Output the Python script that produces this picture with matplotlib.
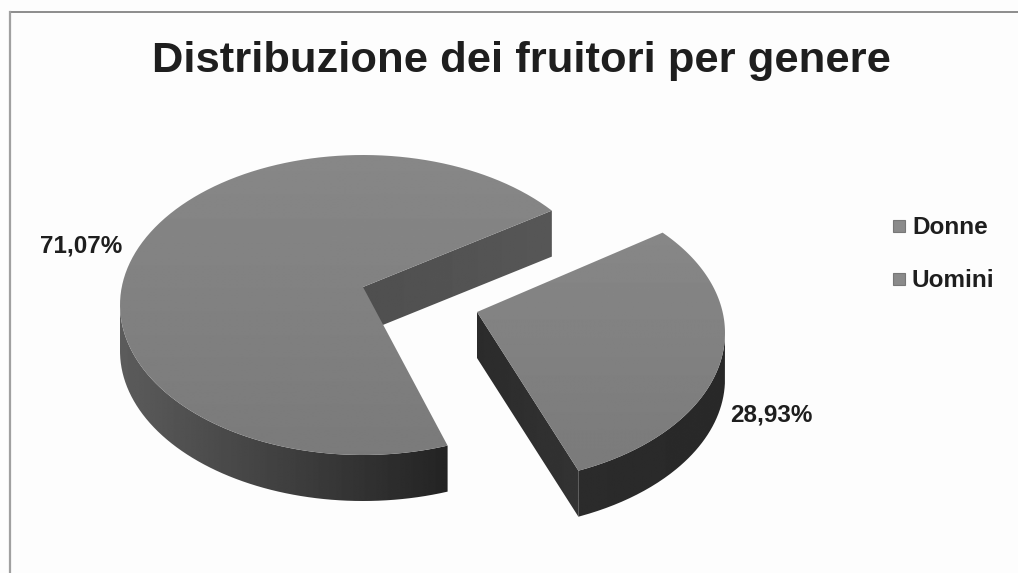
import numpy as np
import matplotlib
matplotlib.use("Agg")
import matplotlib.pyplot as plt
from matplotlib.patches import PathPatch, Rectangle
from matplotlib.path import Path

plt.rcParams['font.family'] = ['Liberation Sans', 'DejaVu Sans']

# dati del grafico
categorie = ["Donne", "Uomini"]
quote = [71.07, 28.93]
etichette = ["71,07%", "28,93%"]
titolo = "Distribuzione dei fruitori per genere"

# geometria della torta 3D (pixel della figura)
A, B = 243, 150      # semiassi dell'ellisse
H = 46               # spessore
PROSP = 1.043        # la prospettiva allarga la fetta piccola

fig = plt.figure(figsize=(10.18, 5.73), dpi=100, facecolor="#fdfdfd")
ax = fig.add_axes([0, 0, 1, 1])
ax.set_xlim(0, 1018)
ax.set_ylim(573, 0)
ax.axis("off")


def arco(cx, cy, a0, a1, n=120):
    th = np.radians(np.linspace(a0, a1, n))
    return np.column_stack([cx + A*np.cos(th), cy - B*np.sin(th)])


def riempi(punti, c0, c1, vert=False, z=2):
    # poligono riempito con un gradiente
    patch = PathPatch(Path(np.vstack([punti, punti[:1]])), fc="none", ec="none", zorder=z)
    ax.add_patch(patch)
    g = np.linspace(c0, c1, 256)
    g = g.reshape(-1, 1) if vert else g.reshape(1, -1)
    x0, x1 = punti[:, 0].min(), punti[:, 0].max()
    y0, y1 = punti[:, 1].min(), punti[:, 1].max()
    im = ax.imshow(g, extent=[x0, x1, y1, y0], cmap="gray", vmin=0, vmax=1,
                   aspect="auto", zorder=z, interpolation="bilinear")
    im.set_clip_path(patch)


def fetta(apice, centro, a0, a1, lato, muro, col_lato, top=(0.53, 0.48)):
    # a0 -> a1 in senso antiorario, lato = lato interno visibile, muro = arco visibile
    bordo = arco(centro[0], centro[1], a0, a1)
    giu = np.array([0, H])
    # lato interno
    e = arco(centro[0], centro[1], lato, lato, 1)[0]
    p = np.array([apice, e, e + giu, np.array(apice) + giu])
    riempi(p, col_lato, col_lato + 0.03)
    # parete esterna
    m = arco(centro[0], centro[1], muro[0], muro[1])
    p = np.vstack([m, (m + giu)[::-1]])
    riempi(p, muro[2], muro[3])
    # faccia superiore
    p = np.vstack([[apice], bordo])
    riempi(p, top[0], top[1], vert=True, z=3)


# angoli ricavati dalle quote
gradi = 360*np.array(quote)/sum(quote)*PROSP

# fetta Donne (71,07%)
inizio_d = 39
fine_d = inizio_d + 360 - gradi[1]
fetta((363, 287), (363, 305), inizio_d, fine_d, inizio_d, (180, fine_d, 0.36, 0.14), 0.31)

# fetta Uomini (28,93%)
inizio_u = 42
fine_u = inizio_u - gradi[1]
fetta((477, 312), (482, 333), fine_u, inizio_u, fine_u, (fine_u, 0, 0.17, 0.16), 0.17)

# cornice
ax.plot([10, 1018], [12, 12], color="#8c8c8c", lw=1.4, zorder=1)
ax.plot([10, 10], [12, 573], color="#a0a0a0", lw=1.6, zorder=1)

# testi
ax.text(521, 61, titolo, ha="center", va="center", fontsize=31.3, fontweight="bold", color="#1e1e1e")
ax.text(81, 246, etichette[0], ha="center", va="center", fontsize=17.5, fontweight="bold", color="#1e1e1e")
ax.text(771, 415, etichette[1], ha="center", va="center", fontsize=17.5, fontweight="bold", color="#1e1e1e")

# legenda
for nome, y in zip(categorie, [226, 279]):
    ax.add_patch(Rectangle((893, y - 6), 12, 12, fc="#8a8a8a", ec="#777777", lw=0.8))
    ax.text(912, y + 1.5, nome, ha="left", va="center", fontsize=17.5, fontweight="bold", color="#1e1e1e")

ax.set_xlim(0, 1018)
ax.set_ylim(573, 0)
fig.savefig("out.png", dpi=100, facecolor=fig.get_facecolor())
